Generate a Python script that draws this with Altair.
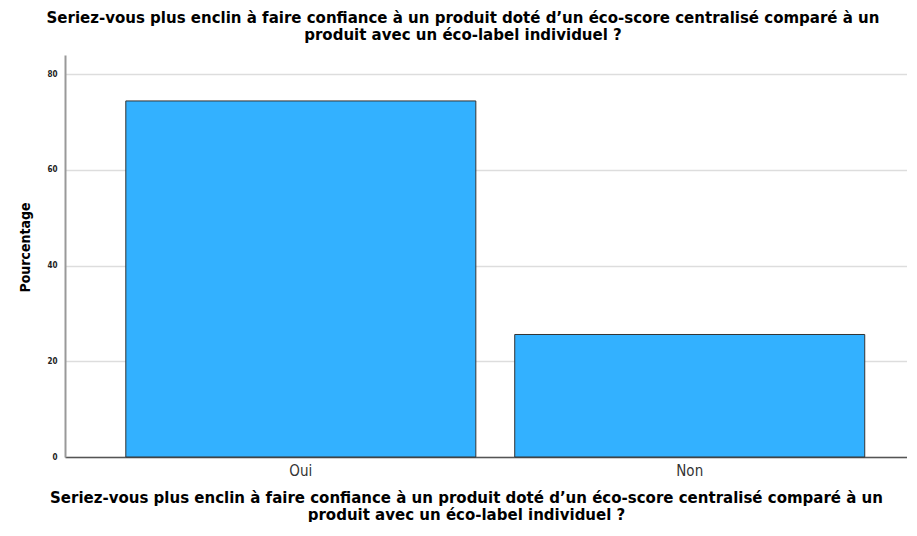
import altair as alt
import pandas as pd

categories = ["Oui", "Non"]
percentages = [74.4, 25.6]
question = ["Seriez-vous plus enclin à faire confiance à un produit doté d\u2019un éco-score centralisé comparé à un",
            "produit avec un éco-label individuel ?"]
y_title = "Pourcentage"

df = pd.DataFrame({"reponse": categories, "pct": percentages})

FONT = "DejaVu Sans Condensed, sans-serif"
TFONT = "DejaVu Sans, sans-serif"

chart = alt.Chart(df).mark_bar(
    color="#33B1FF", stroke="#333333", strokeWidth=1
).encode(
    x=alt.X("reponse:N", sort=categories,
            scale=alt.Scale(paddingInner=0.1, paddingOuter=0.1325, align=0.59),
            axis=alt.Axis(title=question, labelAngle=0, ticks=False, labelPadding=6,
                          labelFontSize=15, labelFont=FONT, labelColor="#333333",
                          titleFont=TFONT, titleFontSize=15, titleFontWeight="bold",
                          titleColor="#000000", titlePadding=12, titleLineHeight=17,
                          titleX=401, titleAlign="center",
                          domainColor="#555555", domainWidth=1.5)),
    y=alt.Y("pct:Q", scale=alt.Scale(domain=[0, 84], nice=False),
            axis=alt.Axis(title=y_title, values=[0, 20, 40, 60, 80], ticks=False,
                          labelPadding=8, labelFontSize=8, labelFont=FONT,
                          labelFontWeight="bold", labelColor="#222222",
                          titleFont=FONT, titleFontSize=14, titleFontWeight="bold",
                          titleColor="#000000", titlePadding=14, titleY=192,
                          gridColor="#dddddd", gridWidth=1.5,
                          domainColor="#999999", domainWidth=2)),
).properties(
    width=842, height=402,
    padding={"left": 10, "top": 3, "right": 0, "bottom": 0},
    title=alt.TitleParams(text=question, font=TFONT, fontSize=15, fontWeight="bold",
                          color="#000000", anchor="middle", dx=-23, offset=12,
                          lineHeight=17),
).configure_view(stroke=None)

chart.save("out.html", embed_options={"renderer": "svg", "actions": False})
